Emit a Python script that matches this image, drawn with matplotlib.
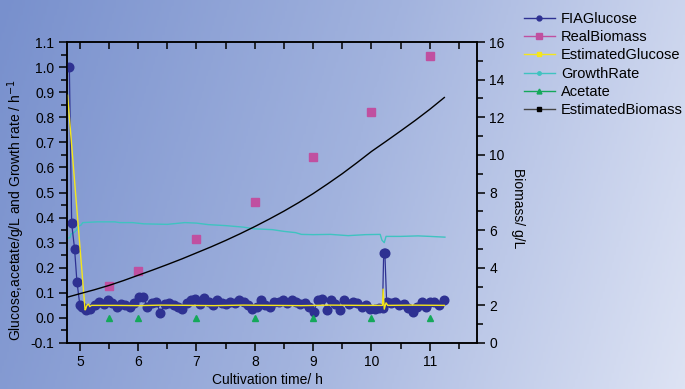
import numpy as np
import matplotlib
matplotlib.use("Agg")
import matplotlib.pyplot as plt
from matplotlib.lines import Line2D
from matplotlib.colors import LinearSegmentedColormap
from matplotlib.ticker import MultipleLocator

plt.rcParams["font.family"] = ["Liberation Sans", "DejaVu Sans"]

# ── data ──────────────────────────────────────────────────────────────────────
fia_t = [4.82, 4.86, 4.91, 4.95, 5.00,
         5.03, 5.11, 5.18, 5.26, 5.33, 5.41, 5.48, 5.56, 5.63, 5.71, 5.78, 5.86, 5.93,
         6.01, 6.08, 6.16, 6.23, 6.31, 6.38, 6.46, 6.53, 6.61, 6.68, 6.76, 6.83, 6.91, 6.98,
         7.06, 7.13, 7.21, 7.28, 7.36, 7.43, 7.51, 7.58, 7.66, 7.73, 7.81, 7.88, 7.96,
         8.03, 8.11, 8.18, 8.26, 8.33, 8.41, 8.48, 8.56, 8.63, 8.71, 8.78, 8.86, 8.93,
         9.01, 9.08, 9.16, 9.23, 9.31, 9.38, 9.46, 9.53, 9.61, 9.68, 9.76, 9.83, 9.91, 9.98,
         10.06, 10.13, 10.19, 10.21, 10.23, 10.26, 10.33, 10.41, 10.48, 10.56, 10.63, 10.71,
         10.78, 10.86, 10.93, 11.01, 11.08, 11.16, 11.24]
fia_glc = [1.00, 0.377, 0.275, 0.145, 0.052,
           0.045, 0.030, 0.035, 0.050, 0.065, 0.055, 0.070, 0.060, 0.045, 0.055, 0.050, 0.045, 0.060,
           0.085, 0.085, 0.045, 0.060, 0.065, 0.020, 0.055, 0.060, 0.050, 0.045, 0.035, 0.060, 0.070, 0.075,
           0.055, 0.080, 0.065, 0.050, 0.070, 0.060, 0.055, 0.065, 0.060, 0.070, 0.065, 0.050, 0.035,
           0.045, 0.070, 0.050, 0.045, 0.065, 0.065, 0.070, 0.060, 0.070, 0.065, 0.055, 0.060, 0.045,
           0.025, 0.070, 0.075, 0.030, 0.070, 0.055, 0.030, 0.070, 0.055, 0.065, 0.060, 0.045, 0.050, 0.035,
           0.035, 0.040, 0.040, 0.260, 0.260, 0.065, 0.060, 0.065, 0.050, 0.055, 0.040, 0.025,
           0.045, 0.065, 0.045, 0.065, 0.065, 0.050, 0.070]

est_t = [4.79, 5.09, 5.10, 5.12, 5.15, 5.17, 5.20, 5.6, 6.0, 6.4, 6.9, 7.3, 7.8, 8.3,
         8.8, 9.3, 9.8, 10.19, 10.20, 10.22, 10.25, 10.28, 10.7, 11.25]
est_glc = [0.888, 0.032, 0.035, 0.050, 0.055, 0.045, 0.050, 0.050, 0.049, 0.051, 0.050, 0.049,
           0.051, 0.050, 0.049, 0.051, 0.050, 0.050, 0.115, 0.035, 0.060, 0.050, 0.051, 0.050]

mu_t = [4.79, 4.83, 4.85, 4.90, 4.95, 4.97, 5.02, 5.05, 5.30, 5.60, 5.68, 5.90, 6.10, 6.50,
        6.80, 7.00, 7.20, 7.50, 7.80, 8.00, 8.30, 8.50, 8.70, 8.80, 9.00, 9.30, 9.60, 9.90,
        10.15, 10.18, 10.22, 10.25, 10.50, 10.80, 11.00, 11.26]
mu = [0.318, 0.320, 0.335, 0.340, 0.352, 0.365, 0.370, 0.380, 0.383, 0.383, 0.380, 0.380,
      0.375, 0.373, 0.380, 0.378, 0.372, 0.368, 0.362, 0.355, 0.352, 0.345, 0.340, 0.333,
      0.332, 0.333, 0.328, 0.332, 0.333, 0.310, 0.300, 0.325, 0.325, 0.327, 0.325, 0.322]

sample_t = [5.5, 6.0, 7.0, 8.0, 9.0, 10.0, 11.0]
real_biomass = [3.03, 3.85, 5.53, 7.52, 9.90, 12.27, 15.27]
acetate = [0.0, 0.0, 0.0, 0.0, 0.0, 0.0, 0.0]

bm_t = [4.78, 5.0, 5.25, 5.5, 5.75, 6.0, 6.25, 6.5, 6.75, 7.0, 7.25, 7.5, 7.75, 8.0,
        8.25, 8.5, 8.75, 9.0, 9.25, 9.5, 9.75, 10.0, 10.25, 10.5, 10.75, 11.0, 11.25]
est_biomass = [2.43, 2.62, 2.83, 3.06, 3.32, 3.60, 3.88, 4.17, 4.47, 4.79, 5.11, 5.45, 5.81,
               6.19, 6.59, 7.01, 7.46, 7.94, 8.46, 9.00, 9.58, 10.18, 10.72, 11.27, 11.83,
               12.42, 13.05]

c_fia = "#2e3192"
c_real = "#c050a0"
c_est = "#f5e61a"
c_mu = "#3fc3c0"
c_ace = "#14a85a"
c_bm = "#000000"

fig = plt.figure(figsize=(6.85, 3.89), dpi=100)

# gradient background
bg = fig.add_axes([0, 0, 1, 1], zorder=-10)
cmap = LinearSegmentedColormap.from_list("bg", ["#7890cd", "#a2b3de", "#dde3f4"])
gx, gy = np.meshgrid(np.linspace(0, 1, 300), np.linspace(0, 1, 200))
bg.imshow(0.85 * gx + 0.15 * gy, cmap=cmap, aspect="auto", extent=[0, 1, 0, 1],
          origin="upper", vmin=0, vmax=1)
bg.axis("off")

ax = fig.add_axes([67 / 685, 46 / 389, 410 / 685, 301 / 389])
ax.set_facecolor("none")
ax2 = ax.twinx()
ax2.set_facecolor("none")

ax.plot(fia_t, fia_glc, color=c_fia, lw=0.9, marker="o", ms=6.2, zorder=3)
ax.plot(est_t, est_glc, color=c_est, lw=1.0, zorder=4)
ax.plot(mu_t, mu, color=c_mu, lw=1.0, zorder=2)
ax.plot(sample_t, acetate, ls="none", marker="^", color=c_ace, ms=4, zorder=3)
ax2.plot(sample_t, real_biomass, ls="none", marker="s", color=c_real, ms=5.5)
ax2.plot(bm_t, est_biomass, color=c_bm, lw=1.0)

ax.set_xlim(4.78, 11.81)
ax.set_ylim(-0.1, 1.1)
ax2.set_ylim(0, 16)

ax.xaxis.set_major_locator(MultipleLocator(1))
ax.xaxis.set_minor_locator(MultipleLocator(0.5))
ax.yaxis.set_major_locator(MultipleLocator(0.1))
ax.yaxis.set_minor_locator(MultipleLocator(0.05))
ax2.yaxis.set_major_locator(MultipleLocator(2))
ax2.yaxis.set_minor_locator(MultipleLocator(1))

ax.tick_params(axis="both", which="major", direction="out", length=6, width=1.1,
               labelsize=10, pad=3)
ax.tick_params(axis="both", which="minor", direction="out", length=4, width=1.1)
ax.tick_params(axis="x", which="both", top=True)
ax2.tick_params(axis="y", which="major", direction="out", length=6, width=1.1,
                labelsize=10, pad=3)
ax2.tick_params(axis="y", which="minor", direction="out", length=4, width=1.1)
ax.yaxis.set_major_formatter(matplotlib.ticker.FormatStrFormatter("%.1f"))

# top ticks point inward
for t in ax.xaxis.get_major_ticks() + ax.xaxis.get_minor_ticks():
    t.tick2line.set_marker(matplotlib.lines.TICKDOWN)
    t.tick2line.set_markersize(5)

for a in (ax, ax2):
    for s in a.spines.values():
        s.set_linewidth(1.1)
        s.set_color("black")

ax.set_xlabel("Cultivation time/ h", fontsize=10)
ax.xaxis.set_label_coords(0.488, -0.100)
ax.set_ylabel("Glucose,acetate/g/L and Growth rate / h$^{-1}$", fontsize=10)
ax.yaxis.set_label_coords(-0.098, 0.442)
ax2.set_ylabel("Biomass/ g/L", fontsize=10, rotation=270, va="bottom")
ax2.yaxis.set_label_coords(1.083, 0.447)

handles = [
    Line2D([], [], color=c_fia, marker="o", ms=3.5, lw=1.0),
    Line2D([], [], color=c_real, marker="s", ms=5, lw=1.0),
    Line2D([], [], color=c_est, marker="s", ms=3, lw=1.0),
    Line2D([], [], color=c_mu, marker="o", ms=2.5, lw=1.0),
    Line2D([], [], color=c_ace, marker="^", ms=3.5, lw=1.0),
    Line2D([], [], color="#444444", marker="s", mfc="black", mec="black", ms=2.5, lw=1.0),
]
labels = ["FIAGlucose", "RealBiomass", "EstimatedGlucose", "GrowthRate", "Acetate",
          "EstimatedBiomass"]
fig.legend(handles, labels, loc="upper left", bbox_to_anchor=(524 / 685, 1 - 12 / 389),
           frameon=False, fontsize=10.5, handlelength=2.1, handletextpad=0.45,
           labelspacing=0.29, borderpad=0, borderaxespad=0)

fig.savefig("out.png", dpi=100)
